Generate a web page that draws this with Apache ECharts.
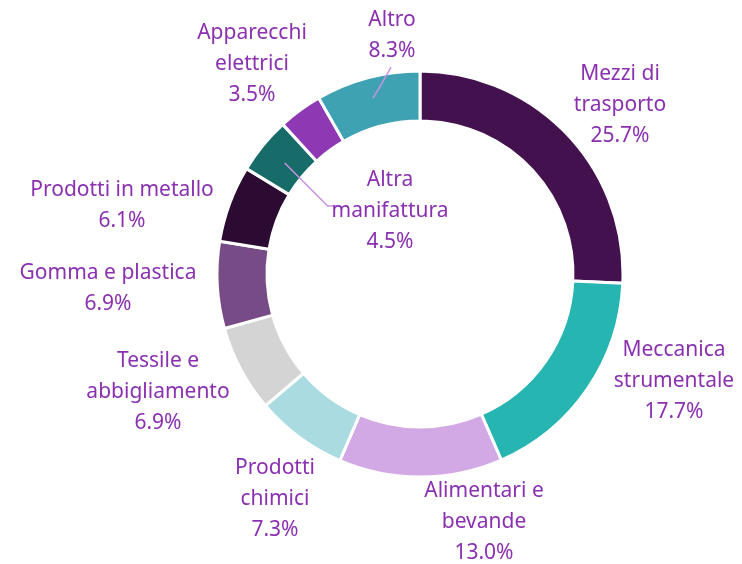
<!DOCTYPE html>
<html lang="it">
<head>
    <meta charset="UTF-8">
    <title>Composizione per settore</title>
    <style type="text/css">
        *{ margin: 0; padding: 0; }
        body{ background: #fff; }
        #chart{ width: 742px; height: 564px; }
    </style>
</head>
<body>
<div id="chart"></div>
<script src="https://cdn.jsdelivr.net/npm/echarts@6/dist/echarts.min.js"></script>
<script>
    // settori (con gli a capo come nel grafico originale)
    var categories = [
        'Mezzi di\ntrasporto',
        'Meccanica\nstrumentale',
        'Alimentari e\nbevande',
        'Prodotti\nchimici',
        'Tessile e\nabbigliamento',
        'Gomma e plastica',
        'Prodotti in metallo',
        'Altra\nmanifattura',
        'Apparecchi\nelettrici',
        'Altro'
    ];
    // quote percentuali
    var values = [25.7, 17.7, 13.0, 7.3, 6.9, 6.9, 6.1, 4.5, 3.5, 8.3];
    var colors = ['#44114f', '#26b5b1', '#d3a9e5', '#a9dbe1', '#d4d4d4',
                  '#764b86', '#2b0b31', '#176b68', '#8e39b3', '#3ea2b2'];

    // posizione delle etichette rispetto al centro della ciambella (dx, dy)
    var labelOffset = [
        [200, -169], [254, 107], [64, 248], [-145, 225], [-262, 118],
        [-312, 15], [-298, -68], [-30, -63], [-168, -210], [-28, -238]
    ];

    var cx = 420, cy = 274;

    var myChart = echarts.init(document.getElementById('chart'));

    // dati per l'anello colorato
    var ringData = [];
    // dati per il livello (trasparente) che porta etichette e linee guida
    var labelData = [];
    for (var i = 0; i < values.length; i++) {
        ringData.push({ name: categories[i], value: values[i], itemStyle: { color: colors[i] } });
        labelData.push({
            name: categories[i],
            value: values[i],
            // solo "Altra manifattura" e "Altro" hanno la linea guida
            labelLine: { show: (i === 7 || i === 9) }
        });
    }

    // angolo medio di ogni fetta (gradi, 0 = in alto, senso orario)
    var total = values.reduce(function (a, b) { return a + b; }, 0);
    var midAngle = [];
    var acc = 0;
    for (var j = 0; j < values.length; j++) {
        midAngle.push((acc + values[j] / 2) / total * 360);
        acc += values[j];
    }
    function ringPoint(angle, r) {
        var rad = angle * Math.PI / 180;
        return [cx + r * Math.sin(rad), cy - r * Math.cos(rad)];
    }

    var option = {
        backgroundColor: '#fff',
        animation: false,
        series: [
            {
                name: 'Settori',
                type: 'pie',
                center: [cx, cy],
                radius: [153, 203],
                startAngle: 90,
                clockwise: true,
                silent: true,
                data: ringData,
                itemStyle: {
                    borderColor: '#fff',
                    borderWidth: 3
                },
                label: { show: false },
                labelLine: { show: false }
            },
            {
                name: 'Etichette',
                type: 'pie',
                z: 5,
                center: [cx, cy],
                radius: [153, 203],
                startAngle: 90,
                clockwise: true,
                silent: true,
                avoidLabelOverlap: false,
                data: labelData,
                itemStyle: {
                    color: 'rgba(0,0,0,0)',
                    borderWidth: 0
                },
                label: {
                    show: true,
                    position: 'outside',
                    formatter: function (p) {
                        return p.name + '\n' + p.value.toFixed(1) + '%';
                    },
                    color: '#8a30b0',
                    fontFamily: 'Noto Sans',
                    fontSize: 21,
                    lineHeight: 31,
                    align: 'center'
                },
                labelLine: {
                    length: 0,
                    length2: 0,
                    lineStyle: { color: '#c993e2', width: 1.5 }
                },
                labelLayout: function (params) {
                    var k = params.dataIndex;
                    var lx = cx + labelOffset[k][0];
                    var ly = cy + labelOffset[k][1];
                    var res = { x: lx, y: ly, align: 'center', verticalAlign: 'middle' };
                    if (k === 7) {
                        var p0 = ringPoint(midAngle[k], 175);
                        var bendY = ly - 5;
                        res.labelLinePoints = [p0, [p0[0] + (bendY - p0[1]), bendY], [338, bendY]];
                    } else if (k === 9) {
                        var q0 = ringPoint(midAngle[k], 182);
                        res.labelLinePoints = [q0, [q0[0] + 9, q0[1] - 15], [q0[0] + 18, q0[1] - 31]];
                    }
                    return res;
                }
            }
        ]
    };
    myChart.setOption(option);
</script>
</body>
</html>
